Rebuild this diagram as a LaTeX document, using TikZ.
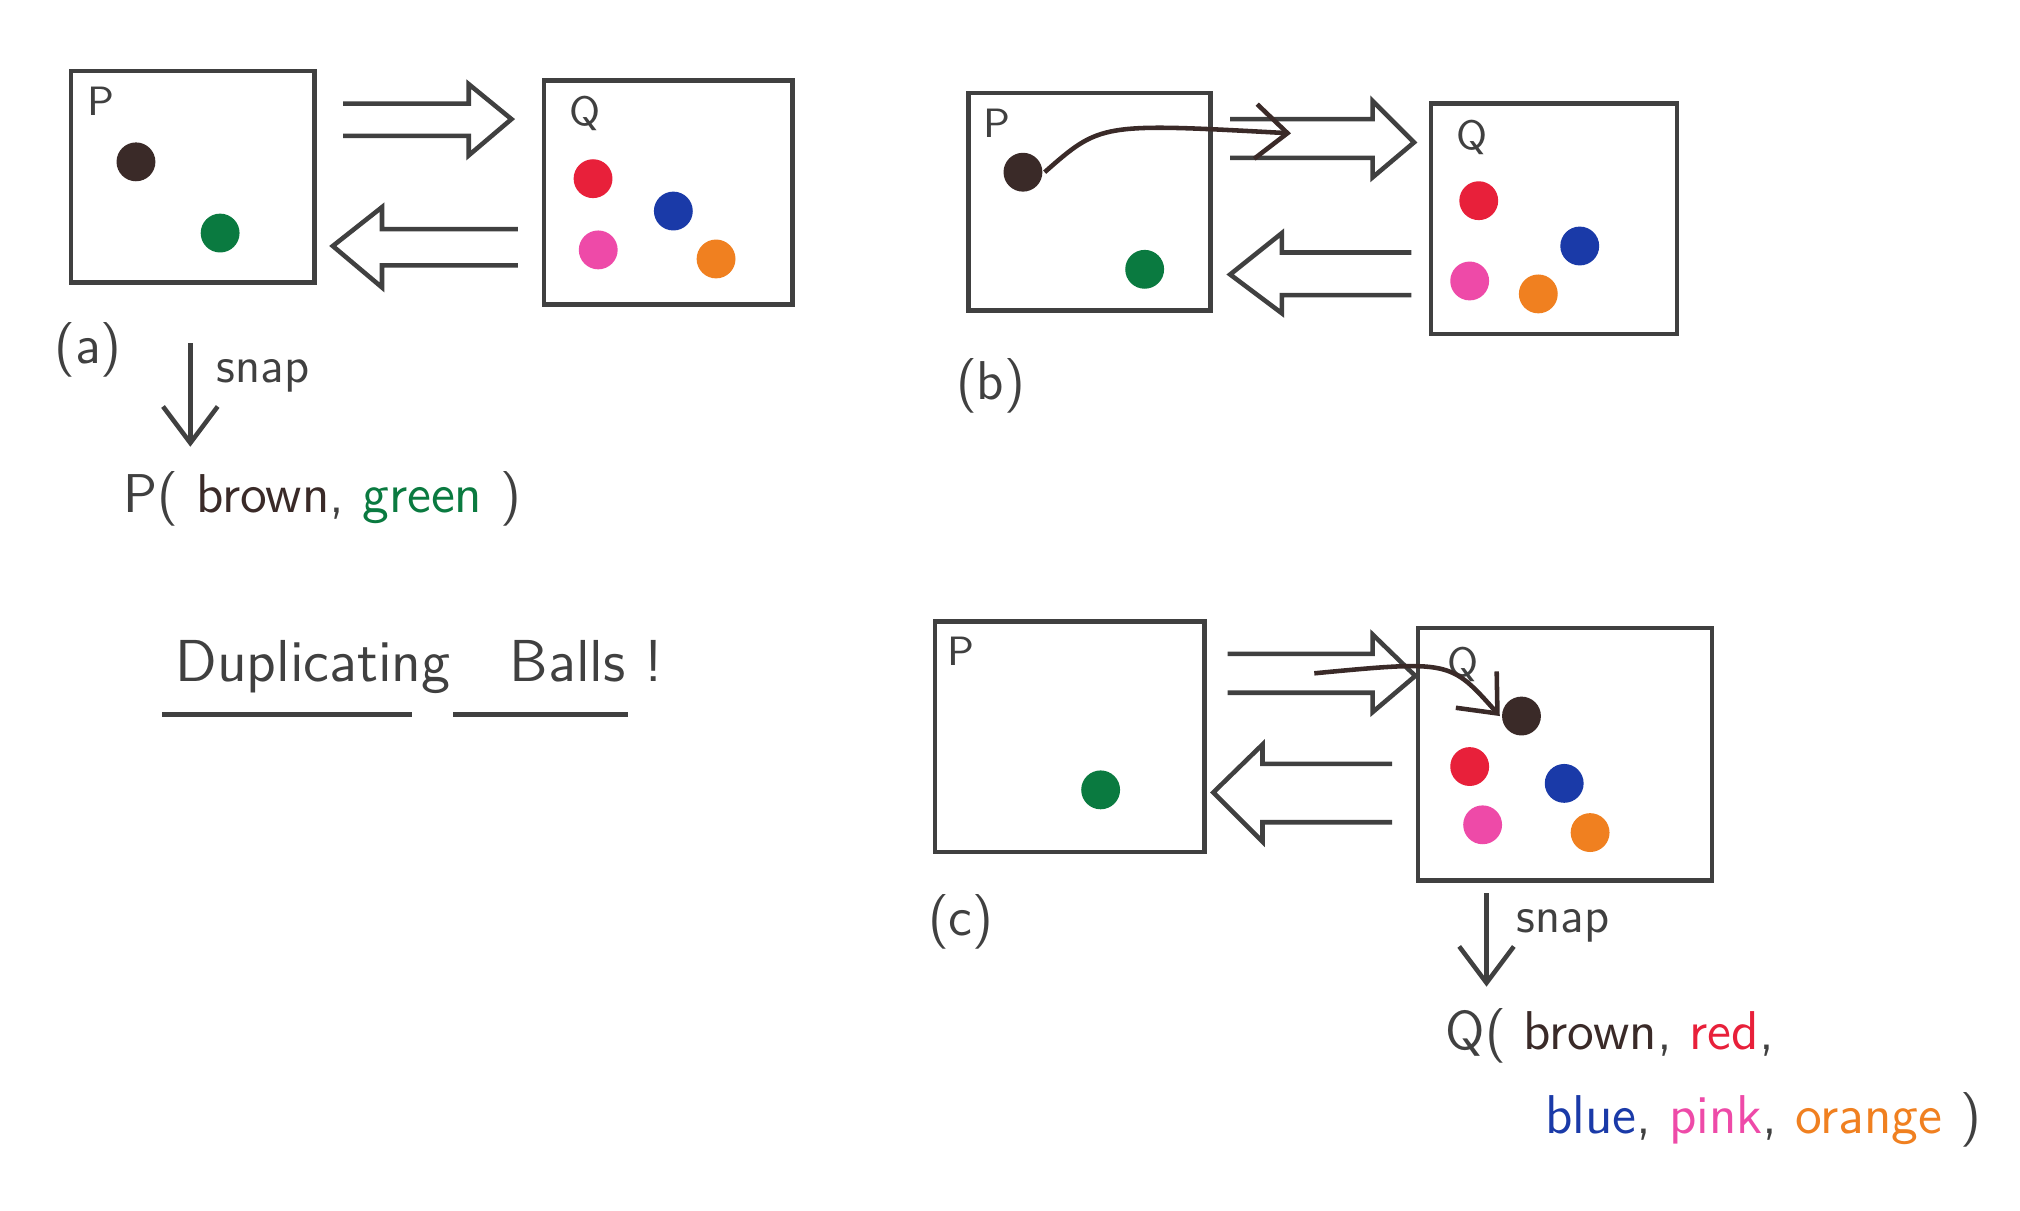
\documentclass[tikz,border=0pt]{standalone}
\usetikzlibrary{arrows.meta}
\definecolor{cbrown}{HTML}{3A2A28}
\definecolor{cgreen}{HTML}{0A7A40}
\definecolor{cred}{HTML}{E8203A}
\definecolor{cblue}{HTML}{1A3AA8}
\definecolor{cpink}{HTML}{EE4AA8}
\definecolor{corange}{HTML}{F08020}
\definecolor{ink}{HTML}{404040}
\begin{document}
\begin{tikzpicture}[x=0.01cm,y=-0.01cm,line width=1pt,
  box/.style={draw=ink},
  ball/.style={circle,minimum size=0.3cm,inner sep=0pt},
  lbl/.style={font=\sffamily\fontsize{9}{10}\selectfont,text=ink},
  txt/.style={font=\sffamily\fontsize{12}{14}\selectfont,text=ink},
  hollow/.style={draw=ink,line join=miter}]
\fill[white] (0,0) rectangle (1560,934.5);
\useasboundingbox (0,0) rectangle (1560,934.5);
% ---------- (a)
\draw[box] (55,55) rectangle (243,218);
\node[lbl] (pa) at (78,78) {P};
\node[ball,fill=cbrown] (ba) at (105,125) {};
\node[ball,fill=cgreen] (ga) at (170,180) {};
\draw[hollow] (265,80)--(362,80)--(362,65)--(395,92)--(362,120)--(362,105)--(265,105);
\draw[hollow] (400,177)--(295,177)--(295,160)--(257,190)--(295,222)--(295,205)--(400,205);
\draw[box] (420,62) rectangle (612,235);
\node[lbl] (qa) at (452,88) {Q};
\node[ball,fill=cred] at (458,138) {};
\node[ball,fill=cblue] at (520,163) {};
\node[ball,fill=cpink] at (462,193) {};
\node[ball,fill=corange] at (553,200) {};
\node[txt] (la) at (68,270) {(a)};
\coordinate (sa1) at (147,265); \coordinate (sa2) at (147,345);
\draw[ink,-{Straight Barb[length=8pt,width=12pt]}] (sa1)--(sa2);
\node[txt,font=\sffamily\fontsize{11}{13}\selectfont] at (203,290) {snap};
\node[txt,anchor=west] at (82,385) {P( {\color{cbrown}brown}, {\color{cgreen}green} )};
\node[txt,anchor=west,font=\sffamily\fontsize{13}{15}\selectfont] (dup) at (122,515) {Duplicating\quad Balls !};
\draw[ink] (125,552)--(318,552) (350,552)--(485,552);
% ---------- (b)
\draw[box] (748,72) rectangle (935,240);
\node[lbl] at (770,95) {P};
\node[ball,fill=cbrown] (bb) at (790,133) {};
\node[ball,fill=cgreen] at (884,208) {};
\draw[hollow] (950,92)--(1060,92)--(1060,78)--(1092,110)--(1060,137)--(1060,122)--(950,122);
\draw[hollow] (1090,195)--(990,195)--(990,180)--(950,212)--(990,242)--(990,228)--(1090,228);
\draw[box] (1105,80) rectangle (1295,258);
\node[lbl] at (1137,106) {Q};
\node[ball,fill=cred] at (1142,155) {};
\node[ball,fill=cblue] at (1220,190) {};
\node[ball,fill=cpink] at (1135,217) {};
\node[ball,fill=corange] at (1188,227) {};
\coordinate (eb) at (997,103);
\draw[cbrown,-{Straight Barb[length=7pt,width=12pt]}] (bb.east) .. controls (850,95) .. (eb);
\node[txt] at (765,298) {(b)};
% ---------- (c)
\draw[box] (722,480) rectangle (930,658);
\node[lbl] at (742,503) {P};
\node[ball,fill=cgreen] at (850,610) {};
\draw[hollow] (948,505)--(1060,505)--(1060,490)--(1093,522)--(1060,550)--(1060,535)--(948,535);
\draw[hollow] (1075,590)--(975,590)--(975,575)--(937,612)--(975,650)--(975,635)--(1075,635);
\draw[box] (1095,485) rectangle (1322,680);
\node[lbl] at (1130,513) {Q};
\node[ball,fill=cbrown] (bc) at (1175,553) {};
\node[ball,fill=cred] at (1135,592) {};
\node[ball,fill=cblue] at (1208,605) {};
\node[ball,fill=cpink] at (1145,637) {};
\node[ball,fill=corange] at (1228,643) {};
\coordinate (sc) at (1015,520);
\draw[cbrown,-{Straight Barb[length=7pt,width=12pt]}] (sc) .. controls (1120,510) .. (bc.west);
\node[txt] at (742,712) {(c)};
\coordinate (sc1) at (1148,690); \coordinate (sc2) at (1148,762);
\draw[ink,-{Straight Barb[length=8pt,width=12pt]}] (sc1)--(sc2);
\node[txt,font=\sffamily\fontsize{11}{13}\selectfont] at (1207,715) {snap};
\node[txt,anchor=west] at (1103,800) {Q( {\color{cbrown}brown}, {\color{cred}red},};
\node[txt,anchor=west] at (1180,865) {{\color{cblue}blue}, {\color{cpink}pink}, {\color{corange}orange} )};
\end{tikzpicture}
\end{document}
